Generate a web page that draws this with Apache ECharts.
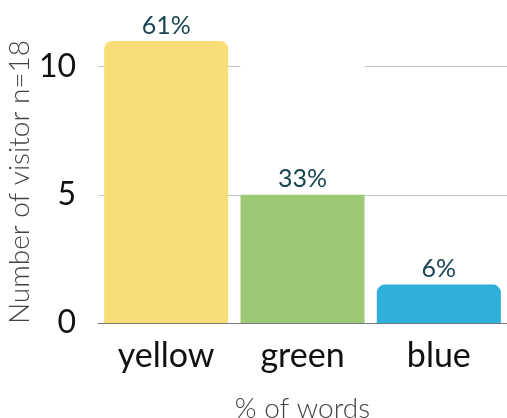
<!DOCTYPE html>
<html>
<head>
<meta charset="utf-8">
<script src="https://cdn.jsdelivr.net/npm/echarts@6/dist/echarts.min.js"></script>
<style>
  html, body { margin: 0; padding: 0; background: #fff; }
  #chart { width: 507px; height: 418px; }
</style>
</head>
<body>
<div id="chart"></div>
<script>
// Word colour preference among visitors
const categories = ['yellow', 'green', 'blue'];
const visitorCounts = [11, 5, 1.5];
const shareLabels = ['61%', '33%', '6%'];
const barColors = ['#F9DE78', '#9DC876', '#2EB0DA'];
const cornerRadii = [8, 0, 8];
const backdropValues = [null, 11, null];

const FONT = 'Lato, "Noto Sans", sans-serif';

const chart = echarts.init(document.getElementById('chart'));
chart.setOption({
  animation: false,
  grid: { left: 98, right: 0, top: 41, bottom: 95, outerBoundsMode: 'none', containLabel: false },
  xAxis: {
    type: 'category',
    data: categories,
    axisTick: { show: false },
    axisLine: { lineStyle: { color: '#7a7a7a', width: 1 } },
    axisLabel: { color: '#111', fontSize: 34, fontFamily: FONT, fontWeight: 400, margin: 16 },
    name: '% of words',
    nameLocation: 'middle',
    nameGap: 72,
    nameMoveOverlap: false,
    nameTextStyle: { color: '#444', fontSize: 28, fontFamily: FONT, fontWeight: 300 }
  },
  yAxis: {
    type: 'value',
    min: 0,
    max: 11,
    interval: 5,
    axisLine: { show: false },
    axisTick: { show: false },
    axisLabel: { color: '#111', fontSize: 32, fontFamily: FONT, fontWeight: 400, margin: 22, showMaxLabel: false },
    splitLine: { show: true, showMinLine: false, showMaxLine: false, lineStyle: { color: '#c4c4c4', width: 1 } },
    name: 'Number of visitor n=18',
    nameLocation: 'middle',
    nameGap: 64,
    nameMoveOverlap: false,
    nameTextStyle: { color: '#444', fontSize: 28, fontFamily: FONT, fontWeight: 300 }
  },
  series: [
    {
      type: 'bar',
      silent: true,
      barWidth: '91%',
      barGap: '-100%',
      z: 1,
      itemStyle: { color: '#fff' },
      data: backdropValues
    },
    {
      type: 'bar',
      barWidth: '91%',
      z: 2,
      data: visitorCounts.map((v, i) => ({
        value: v,
        itemStyle: { color: barColors[i], borderRadius: [cornerRadii[i], cornerRadii[i], 0, 0] },
        label: { formatter: shareLabels[i] }
      })),
      label: {
        show: true,
        position: 'top',
        distance: 3,
        color: '#1a4654',
        fontSize: 25,
        fontFamily: FONT,
        fontWeight: 400
      }
    }
  ]
});
</script>
</body>
</html>
